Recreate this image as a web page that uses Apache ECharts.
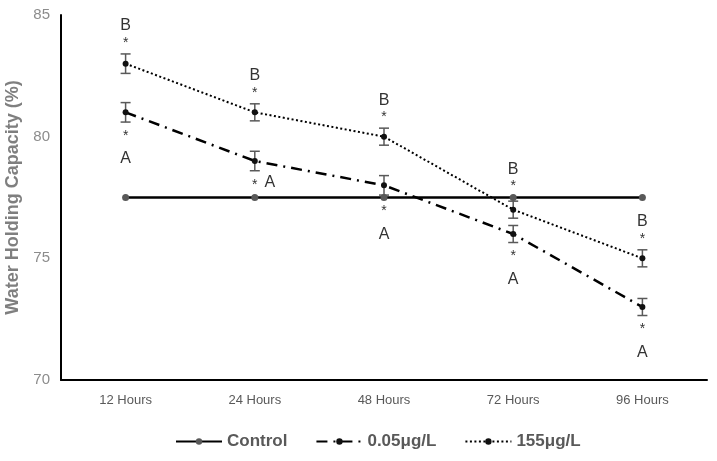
<!DOCTYPE html>
<html>
<head>
<meta charset="utf-8">
<script src="https://cdn.jsdelivr.net/npm/echarts@6/dist/echarts.min.js"></script>
<style>
  html, body { margin: 0; padding: 0; background: #fff; }
  #chart { width: 717px; height: 461px; }
</style>
</head>
<body>
<div id="chart"></div>
<script>
var categories = ['12 Hours', '24 Hours', '48 Hours', '72 Hours', '96 Hours'];
var control = [77.5, 77.5, 77.5, 77.5, 77.5];
var low = [81, 79, 78, 76, 73];
var high = [83, 81, 80, 77, 75];
var lowErr = [0.4, 0.4, 0.4, 0.35, 0.35];
var highErr = [0.4, 0.35, 0.35, 0.35, 0.35];
var highMarks = ['B', 'B', 'B', 'B', 'B'];
var lowMarks = ['A', 'A', 'A', 'A', 'A'];
var lowBeside = [false, true, false, false, false];

var gray = '#595959';
var font = '"Liberation Sans", Arial, sans-serif';

function errorSeries(values, errs) {
  return {
    type: 'custom',
    silent: true,
    z: 4,
    data: values.map(function (v, i) { return [i, v - errs[i], v + errs[i]]; }),
    renderItem: function (params, api) {
      var lo = api.coord([api.value(0), api.value(1)]);
      var hi = api.coord([api.value(0), api.value(2)]);
      var w = 5;
      var st = { stroke: gray, lineWidth: 1.5 };
      return {
        type: 'group',
        children: [
          { type: 'line', shape: { x1: lo[0], y1: lo[1], x2: hi[0], y2: hi[1] }, style: st },
          { type: 'line', shape: { x1: lo[0] - w, y1: lo[1], x2: lo[0] + w, y2: lo[1] }, style: st },
          { type: 'line', shape: { x1: hi[0] - w, y1: hi[1], x2: hi[0] + w, y2: hi[1] }, style: st }
        ]
      };
    }
  };
}

// anchors for the significance marks: move past the control line when it sits right there
var aboveData = categories.map(function (c, i) {
  var t = high[i] + highErr[i];
  if (control[i] > t && control[i] - t < 1.5) t = control[i];
  return [i, t, highMarks[i]];
});
var belowData = categories.map(function (c, i) {
  var b = low[i] - lowErr[i];
  if (b >= control[i] - 0.1 && b - control[i] < 0.8) b = control[i];
  return [i, b, lowMarks[i], lowBeside[i] ? 1 : 0];
});

function txt(x, y, s, size) {
  return {
    type: 'text', x: x, y: y,
    style: { text: s, fill: '#333', font: size + 'px ' + font, align: 'center', verticalAlign: 'middle' }
  };
}

var chart = echarts.init(document.getElementById('chart'));
chart.setOption({
  animation: false,
  textStyle: { fontFamily: font },
  grid: { left: 61, right: 10, top: 15, bottom: 81, containLabel: false, outerBoundsMode: 'none' },
  legend: {
    bottom: 6,
    left: 170,
    itemWidth: 46,
    itemHeight: 8,
    itemGap: 28,
    textStyle: { fontSize: 17, fontWeight: 'bold', color: gray },
    data: ['Control', '0.05μg/L', '155μg/L']
  },
  xAxis: {
    type: 'category',
    data: categories,
    boundaryGap: true,
    axisLine: { lineStyle: { color: '#000', width: 2 } },
    axisTick: { show: false },
    axisLabel: { color: gray, fontSize: 13, margin: 14 }
  },
  yAxis: {
    type: 'value',
    min: 70,
    max: 85,
    interval: 5,
    name: 'Water Holding Capacity (%)',
    nameLocation: 'middle',
    nameGap: 31,
    nameTextStyle: { color: '#7f7f7f', fontSize: 18, fontWeight: 'bold' },
    axisLine: { show: true, lineStyle: { color: '#000', width: 2 } },
    axisTick: { show: false },
    splitLine: { show: false },
    axisLabel: { color: '#8c8c8c', fontSize: 15, margin: 11 }
  },
  series: [
    {
      name: 'Control', type: 'line', data: control,
      symbol: 'circle', symbolSize: 7,
      itemStyle: { color: gray },
      lineStyle: { color: '#000', width: 2.5 },
      z: 3
    },
    {
      name: '0.05μg/L', type: 'line', data: low,
      symbol: 'circle', symbolSize: 6,
      itemStyle: { color: '#111' },
      lineStyle: { color: '#000', width: 2.5, type: [11, 6, 2, 6] },
      z: 5
    },
    {
      name: '155μg/L', type: 'line', data: high,
      symbol: 'circle', symbolSize: 6,
      itemStyle: { color: '#111' },
      lineStyle: { color: '#000', width: 2, type: [2, 2.5] },
      z: 5
    },
    errorSeries(low, lowErr),
    errorSeries(high, highErr),
    {
      type: 'custom', silent: true, z: 6,
      data: aboveData,
      renderItem: function (params, api) {
        var p = api.coord([api.value(0), api.value(1)]);
        return {
          type: 'group',
          children: [
            txt(p[0], p[1] - 11, '*', 14),
            txt(p[0], p[1] - 28, api.value(2), 16)
          ]
        };
      }
    },
    {
      type: 'custom', silent: true, z: 6,
      data: belowData,
      renderItem: function (params, api) {
        var p = api.coord([api.value(0), api.value(1)]);
        if (api.value(3)) {
          return {
            type: 'group',
            children: [
              txt(p[0], p[1] + 14, '*', 14),
              txt(p[0] + 15, p[1] + 12, api.value(2), 16)
            ]
          };
        }
        return {
          type: 'group',
          children: [
            txt(p[0], p[1] + 14, '*', 14),
            txt(p[0], p[1] + 37, api.value(2), 16)
          ]
        };
      }
    }
  ]
});
</script>
</body>
</html>
